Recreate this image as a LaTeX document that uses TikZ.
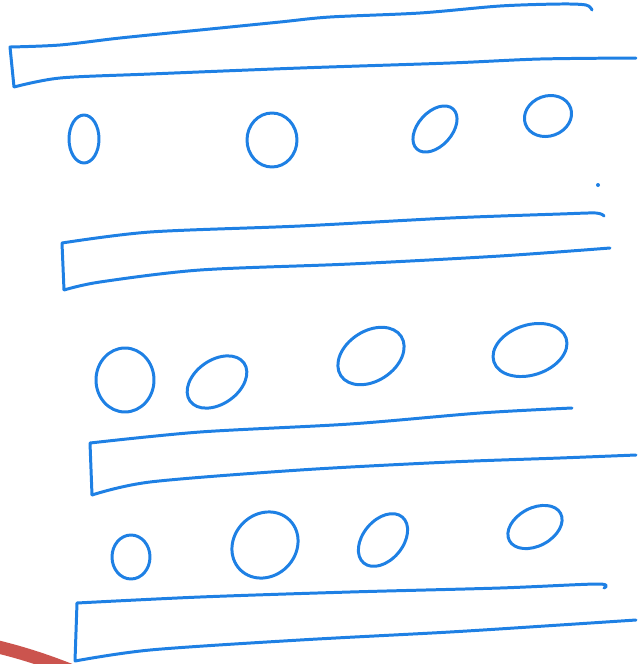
\documentclass[tikz,border=0pt]{standalone}
\definecolor{inkblue}{RGB}{30,128,228}
\definecolor{markred}{RGB}{203,84,78}
\tikzset{
  ink/.style={draw=inkblue,line width=1.7pt,line cap=round,line join=round},
}
\begin{document}
\begin{tikzpicture}[x=0.02cm,y=-0.02cm]
  \useasboundingbox (0,0) rectangle (641,664);
  \clip (0,0) rectangle (641,664);

  % slab 1
  \draw[ink] plot[smooth] coordinates {(592,10) (586,5) (560,4) (500,6) (420,13) (330,17) (280,22) (200,30) (120,38) (60,45) (10,47)}
    -- (14,87) plot[smooth] coordinates {(14,87) (60,78) (150,74) (300,68) (450,63) (540,59) (636,58)};

  % slab 2
  \draw[ink] plot[smooth] coordinates {(604,216) (596,213) (560,214) (450,218) (300,226) (150,232) (62,243)}
    -- (64,290) plot[smooth] coordinates {(64,290) (100,282) (200,270) (350,264) (500,256) (610,248)};

  % slab 3
  \draw[ink] plot[smooth] coordinates {(572,408) (480,413) (350,424) (200,432) (90,443)}
    -- (92,495) plot[smooth] coordinates {(92,495) (150,482) (300,470) (450,462) (560,458) (636,455)};

  % slab 4
  \draw[ink] plot[smooth] coordinates {(604,588) (598,584) (500,588) (350,592) (200,597) (77,603)}
    -- (75,661) plot[smooth] coordinates {(75,661) (150,650) (300,640) (450,632) (560,625) (636,620)};

  % balls, row 1
  \draw[ink] (84,139) ellipse [x radius=15, y radius=24];
  \draw[ink] (272,140) ellipse [x radius=25, y radius=27];
  \draw[ink] (435,129) ellipse [x radius=27, y radius=17, rotate=48];
  \draw[ink] (548,116) ellipse [x radius=24, y radius=20, rotate=20];

  % balls, row 2
  \draw[ink] (125,380) ellipse [x radius=29, y radius=32];
  \draw[ink] (217,382) ellipse [x radius=33, y radius=22, rotate=35];
  \draw[ink] (371,356) ellipse [x radius=36, y radius=25, rotate=33];
  \draw[ink] (530,350) ellipse [x radius=38, y radius=25, rotate=18];

  % balls, row 3
  \draw[ink] (131,557) ellipse [x radius=19, y radius=22];
  \draw[ink] (265,545) ellipse [x radius=35, y radius=31, rotate=45];
  \draw[ink] (383,540) ellipse [x radius=30, y radius=20, rotate=50];
  \draw[ink] (535,527) ellipse [x radius=29, y radius=19, rotate=28];

  % stray dot
  \fill[inkblue] (598,185) circle (2);

  % red mark
  \draw[markred,line width=0.26cm] (-10,645) .. controls (20,652) and (45,660) .. (75,672);
\end{tikzpicture}
\end{document}
